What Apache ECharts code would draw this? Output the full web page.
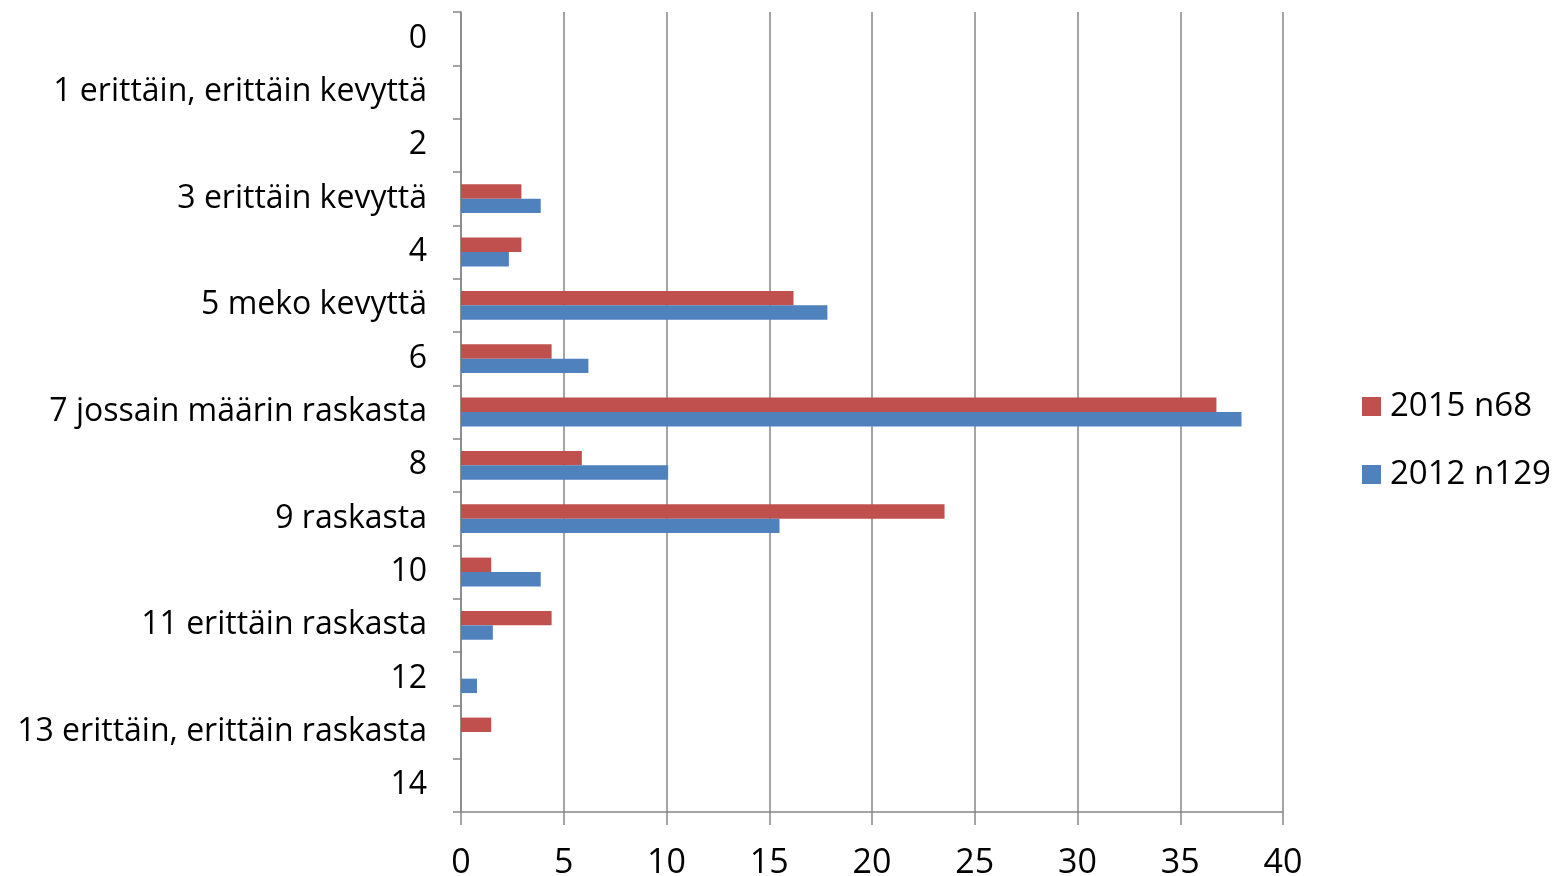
<!DOCTYPE html>
<html>
<head>
<meta charset="utf-8">
<script src="https://cdn.jsdelivr.net/npm/echarts@6/dist/echarts.min.js"></script>
<style>
html,body{margin:0;padding:0;background:#fff;}
#chart{width:1558px;height:876px;}
</style>
</head>
<body>
<div id="chart"></div>
<script>
const categories = ['0','1 erittäin, erittäin kevyttä','2','3 erittäin kevyttä','4','5 meko kevyttä','6','7 jossain määrin raskasta','8','9 raskasta','10','11 erittäin raskasta','12','13 erittäin, erittäin raskasta','14'];
const series2015 = [0,0,0,2.94,2.94,16.18,4.41,36.76,5.88,23.53,1.47,4.41,0,1.47,0];
const series2012 = [0,0,0,3.88,2.33,17.83,6.2,37.98,10.08,15.5,3.88,1.55,0.78,0,0];
const xTicks = [0,5,10,15,20,25,30,35,40];

const FONT = "'Open Sans',sans-serif";
const chart = echarts.init(document.getElementById('chart'));
chart.setOption({
  animation:false,
  grid:{left:461,right:275,top:12,bottom:64,containLabel:false,outerBoundsMode:'none'},
  legend:{
    orient:'vertical',left:1357,top:385,itemWidth:19,itemHeight:19,itemGap:35,
    icon:'rect',data:['2015 n68','2012 n129'],
    textStyle:{fontFamily:FONT,fontSize:33,color:'#000',padding:[0,0,0,4]}
  },
  xAxis:{
    type:'value',min:xTicks[0],max:xTicks[xTicks.length-1],interval:5,
    axisLine:{show:true,lineStyle:{color:'#868686',width:1.5}},
    axisTick:{show:true,length:13,lineStyle:{color:'#868686',width:1.5}},
    splitLine:{show:true,lineStyle:{color:'#868686',width:1.5}},
    axisLabel:{fontFamily:FONT,fontSize:34,color:'#000',margin:34}
  },
  yAxis:{
    type:'category',data:categories,inverse:true,
    axisLine:{show:true,lineStyle:{color:'#868686',width:1.5}},
    axisTick:{show:true,length:8,lineStyle:{color:'#868686',width:1.5}},
    axisLabel:{fontFamily:FONT,fontSize:32,color:'#000',margin:34,padding:[4,0,0,0]}
  },
  series:[
    {name:'2015 n68',type:'bar',data:series2015,itemStyle:{color:'#C0504D'},barGap:'0%',barCategoryGap:'46%'},
    {name:'2012 n129',type:'bar',data:series2012,itemStyle:{color:'#4F81BD'},barGap:'0%',barCategoryGap:'46%'}
  ]
});
</script>
</body>
</html>
